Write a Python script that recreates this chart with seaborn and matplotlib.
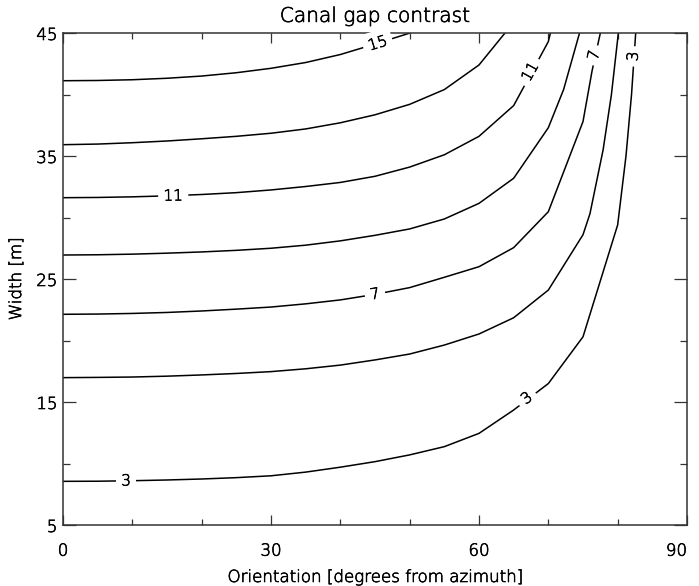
import matplotlib
matplotlib.use("Agg")
import matplotlib.pyplot as plt
import matplotlib.patheffects as pe
from matplotlib.ticker import MultipleLocator, FixedLocator
import seaborn as sns
import pandas as pd

# Contour lines of canal gap contrast: orientation (deg) vs width (m) per level
levels = [3, 5, 7, 9, 11, 13, 15]

orient_3 = [0, 5, 10, 15, 20, 25, 30, 35, 40, 45, 50, 55, 60, 65, 70, 75, 80, 81.2, 82.0, 82.6]
width_3 = [8.55, 8.56, 8.6, 8.66, 8.74, 8.85, 9.0, 9.3, 9.7, 10.15, 10.7, 11.37, 12.45, 14.35, 16.5, 20.3, 29.4, 35.0, 40.0, 45.0]

orient_5 = [0, 5, 10, 15, 20, 25, 30, 35, 40, 45, 50, 55, 60, 65, 70, 75, 76.0, 77.9, 79.1, 80.1]
width_5 = [16.98, 17.0, 17.03, 17.1, 17.2, 17.32, 17.47, 17.7, 18.0, 18.42, 18.9, 19.63, 20.53, 21.85, 24.1, 28.6, 30.3, 35.5, 40.0, 45.0]

orient_7 = [0, 5, 10, 15, 20, 25, 30, 35, 40, 45, 50, 55, 60, 65, 70, 75, 76.3, 77.5]
width_7 = [22.13, 22.15, 22.2, 22.28, 22.4, 22.55, 22.72, 22.98, 23.3, 23.75, 24.3, 25.14, 26.0, 27.55, 30.47, 37.8, 41.9, 45.0]

orient_9 = [0, 5, 10, 15, 20, 25, 30, 35, 40, 45, 50, 55, 60, 65, 70, 72.2, 74.5]
width_9 = [26.95, 26.97, 27.02, 27.1, 27.2, 27.33, 27.5, 27.75, 28.1, 28.55, 29.07, 29.88, 31.15, 33.19, 37.3, 40.4, 45.0]

orient_11 = [0, 5, 10, 15, 20, 25, 30, 35, 40, 45, 50, 55, 60, 65, 70, 70.3]
width_11 = [31.61, 31.63, 31.68, 31.76, 31.87, 32.02, 32.24, 32.52, 32.85, 33.35, 34.1, 35.1, 36.6, 39.1, 44.3, 45.0]

orient_13 = [0, 5, 10, 15, 20, 25, 30, 35, 40, 45, 50, 55, 60, 63.75]
width_13 = [35.92, 35.97, 36.08, 36.22, 36.4, 36.6, 36.85, 37.2, 37.7, 38.35, 39.2, 40.4, 42.4, 45.0]

orient_15 = [0, 5, 10, 15, 20, 25, 30, 35, 40, 45, 50.05]
width_15 = [41.12, 41.14, 41.2, 41.32, 41.5, 41.77, 42.13, 42.6, 43.25, 44.1, 45.0]

orients = [orient_3, orient_5, orient_7, orient_9, orient_11, orient_13, orient_15]
widths = [width_3, width_5, width_7, width_9, width_11, width_13, width_15]

# Inline contour labels: level, position along its line, text angle
label_level = [3, 11, 7, 15, 11, 7, 3, 3]
label_orient = [9.1, 15.9, 45.0, 45.4, 67.4, 76.6, 82.25, 66.9]
label_width = [8.58, 31.75, 23.75, 44.15, 41.85, 43.2, 43.1, 15.3]
label_angle = [0, 0.5, 10, 17, 61, 78, 86, 37]

x_major = [0, 30, 60, 90]
y_major = [5, 15, 25, 35, 45]

rows = []
for lev, xs, ys in zip(levels, orients, widths):
    for i, (xv, yv) in enumerate(zip(xs, ys)):
        rows.append({"level": lev, "order": i, "orientation": xv, "width": yv})
df = pd.DataFrame(rows)

sns.set_style("ticks")
plt.rcParams["font.family"] = ["DejaVu Sans"]
plt.rcParams["font.weight"] = "light"
plt.rcParams["axes.labelweight"] = "light"
plt.rcParams["axes.titleweight"] = "light"
ink = "#000000"
thin_stroke = [pe.withStroke(linewidth=0.45, foreground=ink)]

fig = plt.figure(figsize=(6.99, 5.86), dpi=100)
ax = fig.add_axes([63 / 699, 61 / 586, 624 / 699, 492 / 586])

sns.lineplot(data=df, x="orientation", y="width", units="level", estimator=None,
             sort=False, color="black", linewidth=1.1, ax=ax, legend=False)

for lev, xv, yv, ang in zip(label_level, label_orient, label_width, label_angle):
    ax.text(xv, yv, str(lev), fontsize=11, color=ink, ha="center", va="center",
            rotation=ang, rotation_mode="anchor", zorder=5, path_effects=thin_stroke,
            bbox=dict(boxstyle="square,pad=0.35", facecolor="white", edgecolor="none"))

ax.set_xlim(0, 90)
ax.set_ylim(5, 45)
ax.xaxis.set_major_locator(FixedLocator(x_major))
ax.xaxis.set_minor_locator(MultipleLocator(10))
ax.yaxis.set_major_locator(FixedLocator(y_major))
ax.yaxis.set_minor_locator(MultipleLocator(5))

ax.tick_params(axis="both", which="both", direction="in", top=True, right=True,
               colors="#333333", labelcolor=ink, width=0.9, labelsize=12)
ax.tick_params(axis="x", which="major", length=7.2, pad=12)
ax.tick_params(axis="x", which="minor", length=4.1)
ax.tick_params(axis="y", which="major", length=9.1, pad=4)
ax.tick_params(axis="y", which="minor", length=4.8)
ax.set_xticks(x_major)
ax.set_xticklabels([str(v) for v in x_major])
ax.get_xticklabels()[-1].set_horizontalalignment("right")

for sp in ax.spines.values():
    sp.set_color("#333333")
    sp.set_linewidth(1.1)

ax.set_xlabel("Orientation [degrees from azimuth]", fontsize=12, color=ink, labelpad=6)
ax.set_ylabel("Width [m]", fontsize=12, color=ink, labelpad=8)
ax.set_title("Canal gap contrast", fontsize=14.5, color=ink, pad=8)

for t in ax.get_xticklabels() + ax.get_yticklabels() + [ax.xaxis.label, ax.yaxis.label, ax.title]:
    t.set_path_effects(thin_stroke)

fig.savefig("out.png", dpi=100, facecolor="white")
